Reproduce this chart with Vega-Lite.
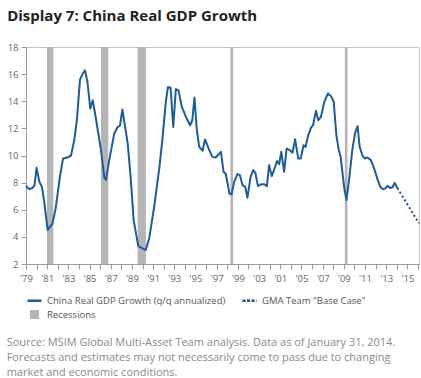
{
  "$schema": "https://vega.github.io/schema/vega-lite/v6.json",
  "padding": {"left": 6, "top": 8, "right": 3, "bottom": 2},
  "background": "white",
  "title": {
    "text": [
      "Source: MSIM Global Multi-Asset Team analysis. Data as of January 31, 2014.",
      "Forecasts and estimates may not necessarily come to pass due to changing",
      "market and economic conditions."
    ],
    "orient": "bottom",
    "anchor": "start",
    "frame": "bounds",
    "font": "Open Sans",
    "fontSize": 11,
    "fontWeight": "normal",
    "lineHeight": 15,
    "color": "#8a8a8a",
    "offset": 14
  },
  "datasets": {
    "gdp": [
      {"t": 1979.0, "v": 7.76}, {"t": 1979.3, "v": 7.52}, {"t": 1979.6, "v": 7.6}, {"t": 1979.8, "v": 7.8},
      {"t": 1980.0, "v": 9.09}, {"t": 1980.26, "v": 8.06}, {"t": 1980.5, "v": 7.7}, {"t": 1980.7, "v": 6.71},
      {"t": 1981.05, "v": 4.5}, {"t": 1981.5, "v": 5.0}, {"t": 1981.8, "v": 6.1}, {"t": 1982.2, "v": 8.43},
      {"t": 1982.5, "v": 9.78}, {"t": 1982.9, "v": 9.85}, {"t": 1983.25, "v": 10.0}, {"t": 1983.55, "v": 11.1},
      {"t": 1983.8, "v": 12.6}, {"t": 1984.1, "v": 15.6}, {"t": 1984.35, "v": 16.04}, {"t": 1984.57, "v": 16.28},
      {"t": 1984.8, "v": 15.42}, {"t": 1985.07, "v": 13.46}, {"t": 1985.3, "v": 14.08}, {"t": 1985.6, "v": 12.73},
      {"t": 1986.08, "v": 10.4}, {"t": 1986.4, "v": 8.35}, {"t": 1986.55, "v": 8.2}, {"t": 1986.86, "v": 9.66},
      {"t": 1987.33, "v": 11.62}, {"t": 1987.65, "v": 12.1}, {"t": 1987.87, "v": 12.2}, {"t": 1988.1, "v": 13.39},
      {"t": 1988.6, "v": 10.89}, {"t": 1988.9, "v": 8.2}, {"t": 1989.16, "v": 5.24}, {"t": 1989.6, "v": 3.32},
      {"t": 1990.0, "v": 3.15}, {"t": 1990.3, "v": 3.03}, {"t": 1990.63, "v": 3.89}, {"t": 1991.1, "v": 6.22},
      {"t": 1991.6, "v": 9.16}, {"t": 1991.9, "v": 11.37}, {"t": 1992.2, "v": 13.95}, {"t": 1992.4, "v": 15.05},
      {"t": 1992.65, "v": 15.0}, {"t": 1992.9, "v": 12.1}, {"t": 1993.15, "v": 14.9}, {"t": 1993.4, "v": 14.8},
      {"t": 1993.7, "v": 13.6}, {"t": 1994.1, "v": 12.84}, {"t": 1994.5, "v": 12.23}, {"t": 1994.7, "v": 12.6},
      {"t": 1994.9, "v": 14.27}, {"t": 1995.13, "v": 11.87}, {"t": 1995.35, "v": 10.64}, {"t": 1995.67, "v": 10.35},
      {"t": 1995.9, "v": 11.18}, {"t": 1996.3, "v": 10.4}, {"t": 1996.6, "v": 9.9}, {"t": 1996.9, "v": 9.85},
      {"t": 1997.4, "v": 10.27}, {"t": 1997.65, "v": 8.8}, {"t": 1997.87, "v": 8.63}, {"t": 1998.2, "v": 7.2},
      {"t": 1998.4, "v": 7.13}, {"t": 1998.65, "v": 8.06}, {"t": 1998.96, "v": 8.63}, {"t": 1999.2, "v": 8.55},
      {"t": 1999.44, "v": 7.81}, {"t": 1999.7, "v": 7.69}, {"t": 1999.9, "v": 6.88}, {"t": 2000.2, "v": 8.43},
      {"t": 2000.45, "v": 8.92}, {"t": 2000.65, "v": 8.72}, {"t": 2000.9, "v": 7.74}, {"t": 2001.2, "v": 7.88},
      {"t": 2001.5, "v": 7.88}, {"t": 2001.74, "v": 7.74}, {"t": 2001.95, "v": 9.29}, {"t": 2002.2, "v": 8.48},
      {"t": 2002.5, "v": 9.12}, {"t": 2002.7, "v": 9.6}, {"t": 2002.9, "v": 9.36}, {"t": 2003.1, "v": 10.27},
      {"t": 2003.37, "v": 8.8}, {"t": 2003.6, "v": 10.51}, {"t": 2003.9, "v": 10.4}, {"t": 2004.16, "v": 10.2},
      {"t": 2004.4, "v": 11.2}, {"t": 2004.7, "v": 9.78}, {"t": 2004.94, "v": 9.78}, {"t": 2005.2, "v": 10.75},
      {"t": 2005.4, "v": 10.64}, {"t": 2005.6, "v": 11.37}, {"t": 2005.9, "v": 12.06}, {"t": 2006.1, "v": 12.23},
      {"t": 2006.37, "v": 13.29}, {"t": 2006.6, "v": 12.6}, {"t": 2006.84, "v": 12.84}, {"t": 2007.16, "v": 13.95},
      {"t": 2007.5, "v": 14.57}, {"t": 2007.8, "v": 14.37}, {"t": 2008.05, "v": 13.95}, {"t": 2008.3, "v": 11.5},
      {"t": 2008.5, "v": 10.5}, {"t": 2008.7, "v": 9.9}, {"t": 2009.03, "v": 7.69}, {"t": 2009.25, "v": 6.71},
      {"t": 2009.5, "v": 8.2}, {"t": 2009.8, "v": 10.4}, {"t": 2010.07, "v": 11.67}, {"t": 2010.3, "v": 12.16},
      {"t": 2010.5, "v": 10.64}, {"t": 2010.77, "v": 9.96}, {"t": 2011.0, "v": 9.78}, {"t": 2011.23, "v": 9.85},
      {"t": 2011.56, "v": 9.66}, {"t": 2011.87, "v": 9.04}, {"t": 2012.2, "v": 8.2}, {"t": 2012.45, "v": 7.69},
      {"t": 2012.67, "v": 7.52}, {"t": 2012.9, "v": 7.57}, {"t": 2013.13, "v": 7.76}, {"t": 2013.37, "v": 7.6},
      {"t": 2013.6, "v": 7.66}, {"t": 2013.8, "v": 7.98}, {"t": 2014.06, "v": 7.6}
    ],
    "forecast": [
      {"t": 2014.06, "v": 7.6},
      {"t": 2016.1, "v": 5.0}
    ],
    "recessions": [
      {"t": 1980.98, "end": 1981.58},
      {"t": 1986.08, "end": 1986.77},
      {"t": 1989.54, "end": 1990.32},
      {"t": 1998.3, "end": 1998.55},
      {"t": 2009.1, "end": 2009.35}
    ]
  },
  "vconcat": [
    {
      "width": 393,
      "height": 217,
      "title": {
        "text": "Display 7: China Real GDP Growth",
        "anchor": "start",
        "frame": "bounds",
        "font": "Open Sans",
        "fontSize": 15,
        "fontWeight": "bold",
        "color": "#222222",
        "offset": 18
      },
      "encoding": {
        "x": {
          "field": "t",
          "type": "quantitative",
          "scale": {"domain": [1979, 2016.1], "nice": false, "zero": false},
          "axis": {
            "title": null,
            "values": [1979,1980,1981,1982,1983,1984,1985,1986,1987,1988,1989,1990,1991,1992,1993,1994,1995,1996,1997,1998,1999,2000,2001,2002,2003,2004,2005,2006,2007,2008,2009,2010,2011,2012,2013,2014,2015,2016],
            "labelExpr": "datum.value % 2 == 1 ? (datum.value == 2001 ? \"'03\" : (datum.value == 2003 ? \"'01\" : \"'\" + substring(toString(datum.value), 2, 4))) : ''",
            "grid": false,
            "tickSize": 5,
            "labelPadding": 4,
            "labelFlush": false,
            "labelOverlap": false
          }
        },
        "color": {
          "field": "series",
          "type": "nominal",
          "scale": {
            "domain": ["China Real GDP Growth (q/q annualized)", "GMA Team \"Base Case\"", "Recessions"],
            "range": ["#1f5c9c", "#1f4f86", "#b5b5b6"]
          },
          "legend": {
            "title": null,
            "orient": "bottom",
            "direction": "horizontal",
            "columns": 2,
            "columnPadding": 11,
            "rowPadding": -2,
            "offset": 9,
            "labelFont": "Open Sans",
            "labelFontSize": 9.5,
            "labelLimit": 400,
            "labelColor": "#555555",
            "symbolType": "stroke",
            "symbolSize": 120,
            "symbolStrokeWidth": 2.5,
            "encode": {
              "symbols": {
                "update": {
                  "shape": {"signal": "datum.index === 2 ? 'square' : 'stroke'"},
                  "size": {"signal": "datum.index === 2 ? 45 : 196"},
                  "fill": {"signal": "datum.index === 2 ? '#b5b5b6' : 'transparent'"},
                  "stroke": {"signal": "datum.index === 2 ? 'transparent' : (datum.index === 1 ? '#1f4f86' : '#1f5c9c')"},
                  "strokeDash": {"signal": "datum.index === 1 ? [3, 1.5] : [1, 0]"},
                  "strokeWidth": {"value": 2.5}
                }
              }
            }
          }
        }
      },
      "layer": [
        {
          "data": {"name": "recessions"},
          "transform": [{"calculate": "'Recessions'", "as": "series"}],
          "mark": {"type": "rect"},
          "encoding": {
            "x2": {"field": "end"}
          }
        },
        {
          "encoding": {
            "y": {
              "field": "v",
              "type": "quantitative",
              "scale": {"domain": [2, 18], "nice": false, "zero": false},
              "axis": {"title": null, "values": [2,4,6,8,10,12,14,16,18], "grid": false, "tickSize": 5, "labelPadding": 3, "labelOverlap": false}
            }
          },
          "layer": [
            {
              "data": {"name": "gdp"},
              "transform": [{"calculate": "'China Real GDP Growth (q/q annualized)'", "as": "series"}],
              "mark": {"type": "line", "strokeWidth": 2, "strokeJoin": "round"}
            },
            {
              "data": {"name": "forecast"},
              "transform": [{"calculate": "'GMA Team \"Base Case\"'", "as": "series"}],
              "mark": {"type": "line", "strokeWidth": 2, "strokeDash": [2, 2.5]}
            }
          ]
        }
      ]
    }
  ],
  "config": {
    "font": "Open Sans",
    "view": {"stroke": "#c8c8c8", "strokeWidth": 1},
    "axis": {
      "domainColor": "#9a9a9a",
      "tickColor": "#9a9a9a",
      "labelColor": "#666666",
      "labelFont": "Open Sans",
      "labelFontSize": 9.5,
      "labelOverlap": false
    }
  }
}
